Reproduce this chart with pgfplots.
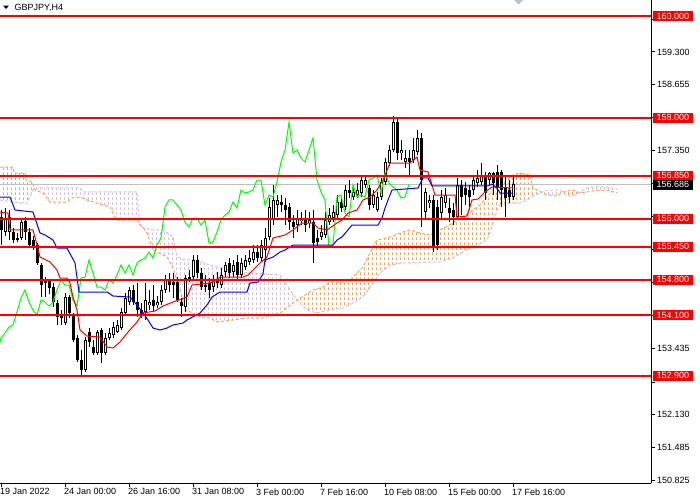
\documentclass[border=0pt]{standalone}
\usepackage{fontspec}
\setmainfont{Liberation Sans}
\usepackage{pgfplots}
\usepackage{pgfplotstable}
\pgfplotsset{compat=1.18}
\usepgfplotslibrary{fillbetween}
\usetikzlibrary{patterns.meta}
\definecolor{sandy}{HTML}{F4A460}
\definecolor{thist}{HTML}{D8BFD8}
\definecolor{mtgreen}{HTML}{00FF00}
\definecolor{mtred}{HTML}{FF0000}
\definecolor{mtblue}{HTML}{0000FF}
\definecolor{mtgray}{HTML}{C0C0C0}
\newcommand\lbl{\fontsize{9bp}{10bp}\selectfont}
\tikzdeclarepattern{name=kumo, type=uncolored,
  bounding box={(0bp,0bp) and (4bp,5bp)}, tile size={(4bp,5bp)},
  code={\draw[line width=1bp] (0.5bp,0bp) -- (0.5bp,3bp);}}

\pgfplotstableread{
k O H L C
0 156.036 156.175 155.483 155.780
1 155.740 156.215 155.661 156.017
2 155.740 156.175 155.582 156.036
3 155.740 155.819 155.523 155.582
4 155.582 155.721 155.542 155.622
5 155.622 156.017 155.582 155.937
6 155.957 156.036 155.582 155.740
7 155.740 155.819 155.443 155.483
8 155.582 155.661 155.384 155.443
9 155.483 155.523 155.088 155.128
10 155.088 155.128 154.455 154.692
11 154.751 154.850 154.455 154.771
12 154.771 154.791 154.515 154.633
13 154.653 154.731 154.257 154.356
14 154.337 154.396 153.902 154.060
15 154.100 154.198 153.902 154.040
16 153.941 154.534 153.902 154.455
17 154.455 154.495 154.040 154.139
18 154.100 154.139 153.565 153.605
19 153.644 153.704 153.170 153.210
20 153.210 153.407 152.913 153.012
21 153.012 153.664 152.972 153.605
22 153.763 153.842 153.467 153.565
23 153.467 153.605 153.309 153.348
24 153.348 153.803 153.309 153.763
25 153.803 153.842 153.151 153.348
26 153.348 153.744 153.309 153.644
27 153.644 153.842 153.605 153.744
28 153.704 153.961 153.644 153.862
29 153.763 154.001 153.744 153.902
30 153.842 154.238 153.803 154.159
31 154.139 154.534 154.080 154.436
32 154.356 154.653 154.297 154.594
33 154.594 154.692 154.297 154.356
34 154.356 154.731 154.060 154.198
35 154.198 154.337 154.040 154.100
36 154.159 154.731 154.001 154.396
37 154.297 154.594 154.198 154.356
38 154.396 154.692 154.159 154.277
39 154.297 154.475 154.238 154.356
40 154.356 154.692 154.297 154.594
41 154.594 154.890 154.534 154.791
42 154.791 154.929 154.554 154.692
43 154.751 154.929 154.436 154.692
44 154.751 154.850 154.356 154.396
45 154.356 154.436 154.060 154.277
46 154.257 154.890 154.159 154.831
47 154.831 154.989 154.751 154.850
48 154.850 155.285 154.791 155.187
49 155.187 155.285 154.831 154.929
50 154.929 155.028 154.594 154.653
51 154.692 154.890 154.554 154.653
52 154.731 154.831 154.436 154.594
53 154.653 154.890 154.554 154.791
54 154.791 154.950 154.633 154.731
55 154.692 155.028 154.633 154.890
56 154.950 155.147 154.850 155.088
57 155.128 155.226 154.831 154.929
58 154.950 155.187 154.850 155.088
59 155.147 155.285 154.791 154.890
60 154.890 155.226 154.831 155.128
61 155.048 155.285 154.989 155.187
62 155.147 155.384 155.088 155.226
63 155.187 155.483 155.128 155.344
64 155.344 155.483 155.147 155.226
65 155.226 155.582 155.147 155.483
66 155.384 155.819 155.147 155.622
67 155.641 156.412 155.582 156.234
68 155.977 156.669 155.878 156.373
69 156.274 156.471 156.036 156.373
70 156.333 156.471 156.135 156.274
71 156.274 156.412 155.878 156.175
72 156.234 156.313 155.780 155.937
73 155.937 156.076 155.622 155.839
74 155.878 156.175 155.740 156.017
75 155.957 156.135 155.878 156.017
76 155.977 156.175 155.740 155.878
77 155.918 156.135 155.819 155.977
78 155.937 156.175 155.128 155.523
79 155.622 155.780 155.424 155.542
80 155.641 155.878 155.582 155.740
81 155.681 156.135 155.622 155.977
82 155.937 156.215 155.878 156.076
83 156.017 156.274 155.937 156.135
84 156.076 156.471 156.017 156.333
85 156.333 156.452 156.135 156.214
86 156.234 156.669 156.175 156.570
87 156.570 156.768 156.412 156.511
88 156.432 156.669 156.373 156.531
89 156.471 156.709 156.412 156.570
90 156.511 156.867 156.432 156.768
91 156.669 156.867 156.610 156.768
92 156.610 156.669 156.175 156.274
93 156.274 156.570 156.214 156.471
94 156.175 156.531 156.135 156.432
95 156.432 156.808 156.373 156.729
96 156.729 157.203 156.669 157.124
97 157.104 157.460 157.045 157.361
98 157.361 158.033 157.321 157.914
99 157.914 157.993 157.163 157.302
100 157.302 157.559 157.163 157.361
101 157.124 157.361 157.005 157.203
102 157.203 157.361 156.867 157.124
103 157.163 157.598 157.104 157.361
104 157.321 157.756 157.262 157.598
105 157.598 157.697 155.839 156.768
106 156.135 156.610 155.977 156.531
107 156.313 156.471 156.214 156.373
108 156.373 156.471 155.345 155.443
109 156.234 156.373 155.384 155.483
110 156.115 156.570 156.017 156.432
111 156.313 156.610 156.214 156.471
112 156.214 156.412 155.937 156.115
113 156.175 156.313 155.878 156.036
114 156.036 156.808 155.977 156.669
115 156.669 156.768 156.076 156.432
116 156.610 156.729 156.274 156.471
117 156.570 156.669 156.175 156.432
118 156.570 156.867 156.471 156.768
119 156.709 156.966 156.630 156.808
120 156.729 157.104 156.669 156.867
121 156.867 156.926 156.373 156.511
122 156.768 156.926 156.669 156.906
123 156.906 156.926 156.471 156.709
124 156.926 157.065 156.373 156.630
125 156.926 156.966 156.234 156.570
126 156.630 156.827 156.036 156.412
127 156.570 156.768 156.313 156.432
128 156.432 156.867 156.373 156.686
}\candles

\begin{document}
\begin{tikzpicture}
\begin{axis}[
  at={(0,0)}, anchor=north west,
  scale only axis, width=651bp, height=483.3bp,
  xmin=-0.25, xmax=162.5, ymin=150.773, ymax=160.326,
  axis x line=bottom, axis y line=right,
  axis line style={-, black, line width=1bp},
  clip mode=individual,
  tick align=outside, major tick length=4bp,
  tick style={black, line width=1bp},
  xtick={0,16,32,48,64,80,96,112,128},
  xticklabels={19 Jan 2022, 24 Jan 00:00, 26 Jan 16:00, 31 Jan 08:00, 3 Feb 00:00, 7 Feb 16:00, 10 Feb 08:00, 15 Feb 00:00, 17 Feb 16:00},
  x tick label style={anchor=north west, inner sep=0pt, xshift=-1bp, yshift=-1bp, font=\lbl},
  ytick={150.825,151.485,152.130,152.775,153.435,154.080,154.740,155.385,156.045,156.690,157.350,157.995,158.655,159.300,159.945},
  yticklabels={150.825,151.485,152.130,{},153.435,{},{},{},{},{},157.350,{},158.655,159.300,{}},
  y tick label style={anchor=west, inner sep=0pt, xshift=2bp, font=\lbl},
]
% Ichimoku cloud
\addplot[name path=spanA, draw=sandy, dash pattern=on 3bp off 2bp, line width=1bp, forget plot] coordinates {
(-0.25,157.025) (3,157.025) (3.25,156.906) (6,156.906) (6.25,156.768) (7.75,156.729) (8.5,156.570) (10.5,156.511) (12.25,156.333) (16.5,156.333) (17.75,156.412) (19.75,156.432) (21.5,156.373) (24,156.313) (27.25,156.234) (28.5,156.036) (29,155.977) (34,155.977) (36.5,155.721) (38,155.384) (41.5,155.246) (43,155.028) (45.25,154.455) (46,154.198) (48,154.139) (49.75,154.060) (52.25,154.040) (54,153.961) (58,154.001) (61.5,154.040) (65.5,154.040) (69.75,154.139) (74,154.396) (78,154.594) (80.5,154.653) (82.25,154.751) (85.5,154.751) (87.25,154.791) (89,154.929) (90.5,155.048) (92.25,155.325) (94,155.582) (97.25,155.641) (100.5,155.740) (102.25,155.780) (104.75,155.721) (107.25,155.681) (109.75,155.780) (113,155.918) (115.5,156.036) (118,156.175) (119.75,156.274) (121.5,156.432) (123,156.570) (125.5,156.709) (128,156.867) (129.75,156.906) (132.25,156.867) (133,156.610) (136.5,156.471) (139,156.452) (140.5,156.531) (143,156.570) (144.75,156.511) (148,156.551) (151.5,156.570) (154,156.511)};
\addplot[name path=spanB, draw=thist, dash pattern=on 3bp off 2bp, line width=1bp, forget plot] coordinates {
(-0.25,156.373) (4.75,156.313) (6.5,156.313) (8,156.570) (8.5,156.610) (19.75,156.610) (20.5,156.531) (34,156.531) (34.75,155.839) (38,155.780) (40.5,155.780) (43,155.641) (44,155.246) (46,155.187) (49.75,155.187) (50.5,155.128) (54,155.048) (57.25,154.989) (59.75,154.950) (69.75,154.890) (72.25,154.594) (74,154.396) (76.5,154.198) (79,154.139) (82.25,154.198) (85.5,154.238) (88,154.337) (90.5,154.455) (93,154.731) (94.75,154.929) (97.25,155.088) (100.5,155.128) (104,155.128) (107.25,155.147) (109.75,155.147) (113,155.226) (115.5,155.344) (119,155.483) (121.5,155.582) (122.75,155.839) (124,156.175) (124.75,156.274) (127.25,156.313) (129.75,156.313) (131.5,156.373) (133.5,156.471) (136.5,156.570) (139.75,156.570) (141.5,156.452) (143,156.452) (146.5,156.610) (149.75,156.650) (152.75,156.610) (154,156.590)};
\addplot[pattern=kumo, pattern color=sandy, draw=none, forget plot] fill between[of=spanA and spanB, soft clip={domain=-0.25:8.3}];
\addplot[pattern=kumo, pattern color=thist, draw=none, forget plot] fill between[of=spanA and spanB, soft clip={domain=8.3:74}];
\addplot[pattern=kumo, pattern color=sandy, draw=none, forget plot] fill between[of=spanA and spanB, soft clip={domain=74:134.7}];
\addplot[pattern=kumo, pattern color=thist, draw=none, forget plot] fill between[of=spanA and spanB, soft clip={domain=134.7:140.4}];
\addplot[pattern=kumo, pattern color=sandy, draw=none, forget plot] fill between[of=spanA and spanB, soft clip={domain=140.4:144.3}];
\addplot[pattern=kumo, pattern color=thist, draw=none, forget plot] fill between[of=spanA and spanB, soft clip={domain=144.3:154}];
% current price line
\addplot[mtgray, line width=1bp, forget plot] coordinates {(-0.25,156.686) (162.5,156.686)};
% candles: wicks, bodies, white interiors
\addplot[draw=none, mark=none, forget plot, error bars/.cd, y dir=both, y explicit, error mark=none,
  error bar style={draw=black, solid, line width=1bp}]
  table[x=k, y=O, y error plus expr=\thisrow{H}-\thisrow{O}, y error minus expr=\thisrow{O}-\thisrow{L}] {\candles};
\addplot[draw=none, mark=none, forget plot, error bars/.cd, y dir=both, y explicit, error mark=none,
  error bar style={draw=black, solid, line width=3bp}]
  table[x=k, y expr=(\thisrow{O}+\thisrow{C})/2, y error expr={max(abs(\thisrow{C}-\thisrow{O})/2,0.01)}] {\candles};
\addplot[draw=none, mark=none, forget plot, error bars/.cd, y dir=both, y explicit, error mark=none,
  error bar style={draw=white, solid, line width=1bp}]
  table[x=k, y expr=(\thisrow{O}+\thisrow{C})/2, y error expr={(\thisrow{C}>\thisrow{O})*max(abs(\thisrow{C}-\thisrow{O})/2-0.02,0)}] {\candles};
% Chikou span
\addplot[mtgreen, line width=1bp, mark=none, forget plot] table[x expr=\thisrow{k}-26, y=C] {\candles};
% Tenkan-sen
\addplot[mtred, line width=1bp, mark=none, forget plot] coordinates {
(-0.25,156.135) (1.75,156.115) (2.25,155.780) (8,155.780) (9,155.483) (9.75,155.246) (12.25,155.147) (14,154.989) (14.75,154.831) (16.5,154.831) (17.25,154.731) (18,154.455) (19,154.198) (19.75,153.803) (21.5,153.684) (24.75,153.664) (26.5,153.467) (28,153.447) (29.75,153.565) (31.75,153.763) (34,153.961) (35.5,154.139) (38.5,154.178) (40.5,154.277) (43,154.356) (46.5,154.455) (47.75,154.692) (52.25,154.731) (53.5,154.771) (54.75,154.850) (60.5,154.850) (61.75,154.890) (63,154.989) (64.75,155.128) (66.5,155.246) (68,155.622) (71,155.681) (73,155.780) (75.25,155.918) (78,155.918) (79.25,155.819) (81.5,155.780) (84,155.918) (85.25,155.977) (86.75,156.115) (89,156.175) (90.5,156.373) (92.25,156.432) (94,156.570) (95.5,156.768) (97.25,157.104) (102.25,157.104) (104,157.223) (104.75,156.966) (106.75,156.926) (107.75,156.669) (108.5,156.471) (113.5,156.471) (114,156.036) (116.5,156.056) (117.75,156.373) (119.25,156.393) (121,156.531) (122.75,156.630) (128,156.610)};
% Kijun-sen
\addplot[mtblue, line width=1bp, mark=none, forget plot] coordinates {
(-0.25,156.432) (2.25,156.432) (3.5,156.175) (8,156.135) (9.75,155.721) (11,155.681) (13,155.582) (14,155.424) (16.5,155.424) (18.5,155.128) (19.5,154.554) (26.5,154.554) (28,154.475) (32.25,154.455) (34,154.297) (35.5,154.139) (36.75,154.001) (38,153.842) (39.75,153.803) (41.5,153.842) (43,153.902) (45.5,153.941) (46.5,154.001) (49.75,154.139) (51.5,154.297) (52.75,154.455) (54.75,154.554) (61.5,154.554) (62.25,154.731) (64.25,154.751) (65.5,154.910) (66,155.187) (68,155.246) (69.75,155.344) (71,155.384) (73,155.483) (83,155.483) (84,155.582) (85.25,155.641) (87.75,155.878) (94.25,155.878) (95.25,156.017) (96,156.214) (96.75,156.373) (97.75,156.570) (104.25,156.610) (105.5,156.808) (106.75,156.808) (107.75,156.650) (121.75,156.650) (122.75,156.689) (124,156.610) (124.75,156.511) (128,156.511)};
% horizontal levels
\addplot[mtred, line width=2bp, forget plot] coordinates {(-0.25,160.000) (162.5,160.000)};
\addplot[mtred, line width=2bp, forget plot] coordinates {(-0.25,158.000) (162.5,158.000)};
\addplot[mtred, line width=2bp, forget plot] coordinates {(-0.25,156.850) (162.5,156.850)};
\addplot[mtred, line width=2bp, forget plot] coordinates {(-0.25,156.000) (162.5,156.000)};
\addplot[mtred, line width=2bp, forget plot] coordinates {(-0.25,155.450) (162.5,155.450)};
\addplot[mtred, line width=2bp, forget plot] coordinates {(-0.25,154.800) (162.5,154.800)};
\addplot[mtred, line width=2bp, forget plot] coordinates {(-0.25,154.100) (162.5,154.100)};
\addplot[mtred, line width=2bp, forget plot] coordinates {(-0.25,152.900) (162.5,152.900)};
\coordinate (a) at (axis cs:162.5,160.000);
\coordinate (b) at (axis cs:162.5,158.000);
\coordinate (c) at (axis cs:162.5,156.850);
\coordinate (d) at (axis cs:162.5,156.000);
\coordinate (e) at (axis cs:162.5,155.450);
\coordinate (f) at (axis cs:162.5,154.800);
\coordinate (g) at (axis cs:162.5,154.100);
\coordinate (h) at (axis cs:162.5,152.900);
\coordinate (p) at (axis cs:162.5,156.686);
\end{axis}
\tikzset{lvl/.style={anchor=west, xshift=1.5bp, fill=mtred, text=white, inner xsep=4bp, inner ysep=0pt, minimum height=10bp, font=\lbl}}
\node[lvl] at (a) {160.000};
\node[lvl] at (b) {158.000};
\node[lvl] at (c) {156.850};
\node[lvl] at (d) {156.000};
\node[lvl] at (e) {155.450};
\node[lvl] at (f) {154.800};
\node[lvl] at (g) {154.100};
\node[lvl] at (h) {152.900};
\node[lvl, fill=black, yshift=-0.5bp] at (p) {156.686};
% title
\fill[black] (3bp,-5.5bp) -- (9bp,-5.5bp) -- (6bp,-9bp) -- cycle;
\node[anchor=west, inner sep=0pt, font=\lbl] at (14.5bp,-7.5bp) {GBPJPY,H4};
\fill[mtgray] (514bp,0bp) -- (523bp,0bp) -- (518.5bp,-4.5bp) -- cycle;
\pgfresetboundingbox
\useasboundingbox (0,0) rectangle (700bp,-500bp);
\end{tikzpicture}
\end{document}
